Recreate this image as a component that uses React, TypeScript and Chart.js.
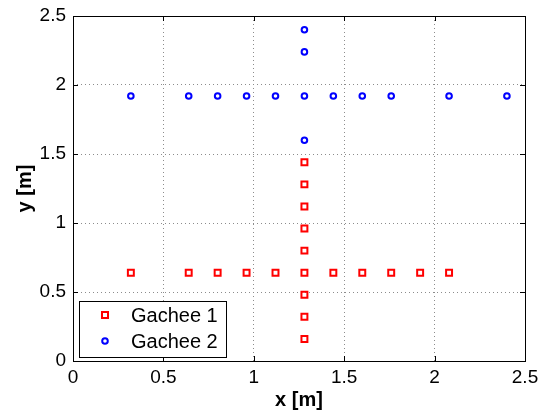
import React, { useEffect, useRef } from "react";
import { Chart, registerables } from "chart.js";

Chart.register(...registerables);

// ---- data ----
const seriesNames = ["Gachee 1", "Gachee 2"];
const gachee1RowX = [0.32, 0.64, 0.8, 0.96, 1.12, 1.28, 1.44, 1.6, 1.76, 1.92, 2.08];
const gachee1RowY = 0.64;
const gachee1ColX = 1.28;
const gachee1ColY = [0.16, 0.32, 0.48, 0.8, 0.96, 1.12, 1.28, 1.44];
const gachee2RowX = [0.32, 0.64, 0.8, 0.96, 1.12, 1.28, 1.44, 1.6, 1.76, 2.08, 2.4];
const gachee2RowY = 1.92;
const gachee2ColX = 1.28;
const gachee2ColY = [1.6, 2.24, 2.4];
const xTicks = [0, 0.5, 1, 1.5, 2, 2.5];
const yTicks = [0, 0.5, 1, 1.5, 2, 2.5];
const xTitle = "x [m]";
const yTitle = "y [m]";

const FONT = "'Liberation Sans', Arial, Helvetica, sans-serif";
const RED = "#ff0000";
const BLUE = "#0000ff";

const framePlugin = {
  id: "matlabFrame",
  afterDraw(chart: any) {
    const ctx = chart.ctx;
    const { left, right, top, bottom } = chart.chartArea;
    const xs = chart.scales.x;
    const ys = chart.scales.y;
    ctx.save();
    ctx.strokeStyle = "#000";
    ctx.lineWidth = 1;
    // inward ticks
    const tl = 5;
    ctx.beginPath();
    xTicks.forEach((v) => {
      const px = Math.round(xs.getPixelForValue(v)) + 0.5;
      ctx.moveTo(px, bottom);
      ctx.lineTo(px, bottom - tl);
      ctx.moveTo(px, top);
      ctx.lineTo(px, top + tl);
    });
    yTicks.forEach((v) => {
      const py = Math.round(ys.getPixelForValue(v)) + 0.5;
      ctx.moveTo(left, py);
      ctx.lineTo(left + tl, py);
      ctx.moveTo(right, py);
      ctx.lineTo(right - tl, py);
    });
    ctx.stroke();
    // box
    ctx.strokeRect(Math.round(left) + 0.5, Math.round(top) + 0.5, Math.round(right - left), Math.round(bottom - top));

    // legend
    const lx = 79, ly = 301, lw = 147, lh = 56;
    ctx.fillStyle = "#fff";
    ctx.fillRect(lx, ly, lw, lh);
    ctx.strokeRect(lx + 0.5, ly + 0.5, lw, lh);
    ctx.font = `20px ${FONT}`;
    ctx.textBaseline = "middle";
    ctx.textAlign = "left";
    const rows = [315, 341];
    chart.data.datasets.forEach((ds: any, i: number) => {
      const cy = rows[i];
      const cx = 105;
      ctx.lineWidth = 2;
      ctx.strokeStyle = ds.borderColor;
      ctx.beginPath();
      if (ds.pointStyle === "rect") {
        ctx.rect(cx - 3, cy - 3, 6, 6);
      } else {
        ctx.arc(cx, cy, 2.8, 0, Math.PI * 2);
      }
      ctx.stroke();
      ctx.fillStyle = "#000";
      ctx.fillText(ds.label, 131, cy + 1);
    });
    ctx.restore();
  },
};

export default function App() {
  const ref = useRef<HTMLCanvasElement | null>(null);
  useEffect(() => {
    if (!ref.current) return;
    Chart.defaults.font.family = FONT;
    const g1 = [
      ...gachee1RowX.map((x) => ({ x, y: gachee1RowY })),
      ...gachee1ColY.map((y) => ({ x: gachee1ColX, y })),
    ];
    const g2 = [
      ...gachee2RowX.map((x) => ({ x, y: gachee2RowY })),
      ...gachee2ColY.map((y) => ({ x: gachee2ColX, y })),
    ];
    const chart = new Chart(ref.current, {
      type: "scatter",
      data: {
        datasets: [
          {
            label: seriesNames[0],
            data: g1,
            pointStyle: "rect",
            pointRadius: 4.2,
            pointHoverRadius: 4.2,
            borderWidth: 2,
            borderColor: RED,
            backgroundColor: "rgba(0,0,0,0)",
          },
          {
            label: seriesNames[1],
            data: g2,
            pointStyle: "circle",
            pointRadius: 2.8,
            pointHoverRadius: 2.8,
            borderWidth: 2,
            borderColor: BLUE,
            backgroundColor: "rgba(0,0,0,0)",
          },
        ] as any,
      },
      options: {
        responsive: false,
        animation: false,
        layout: { padding: { top: 16, right: 14, left: 0, bottom: 0 } },
        plugins: { legend: { display: false }, tooltip: { enabled: false } },
        scales: {
          x: {
            type: "linear",
            min: 0,
            max: 2.5,
            afterFit: (s: any) => {
              s.height = 51;
              s.paddingLeft = 0;
              s.paddingRight = 0;
            },
            afterBuildTicks: (s: any) => {
              s.ticks = xTicks.map((v) => ({ value: v }));
            },
            ticks: {
              color: "#000",
              font: { size: 19 },
              padding: 5,
              maxRotation: 0,
              autoSkip: false,
              callback: (v: any) => String(v),
            },
            grid: { color: "#8c8c8c", lineWidth: 1, drawTicks: false },
            border: { display: false, dash: [1, 3] },
            title: {
              display: true,
              text: xTitle,
              color: "#000",
              font: { size: 20, weight: "bold" },
              padding: { top: 0, bottom: 0 },
            },
          },
          y: {
            type: "linear",
            min: 0,
            max: 2.5,
            afterFit: (s: any) => {
              s.width = 73;
              s.paddingTop = 0;
              s.paddingBottom = 0;
            },
            afterBuildTicks: (s: any) => {
              s.ticks = yTicks.map((v) => ({ value: v }));
            },
            ticks: {
              color: "#000",
              font: { size: 19 },
              padding: 7,
              autoSkip: false,
              callback: (v: any) => String(v),
            },
            grid: { color: "#8c8c8c", lineWidth: 1, drawTicks: false },
            border: { display: false, dash: [1, 3] },
            title: {
              display: true,
              text: yTitle,
              color: "#000",
              font: { size: 20, weight: "bold" },
              padding: { top: 13, bottom: 0 },
            },
          },
        },
      } as any,
      plugins: [framePlugin],
    });
    return () => chart.destroy();
  }, []);
  return (
    <canvas
      ref={ref}
      width={539}
      height={412}
      style={{ position: "absolute", left: 0, top: 0, display: "block", width: 539, height: 412 }}
    />
  );
}
